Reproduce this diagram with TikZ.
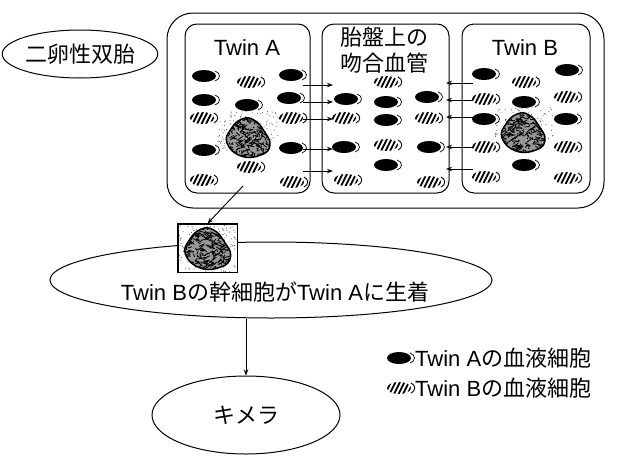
\documentclass[tikz,border=0pt]{standalone}
\usepackage{fontspec}
\setmainfont{Liberation Sans}
\newfontfamily\jp{Noto Sans CJK JP}
\usetikzlibrary{arrows.meta,shapes.geometric,calc}

% outline of a stem cell
\def\blobpath{plot[smooth cycle, tension=0.8] coordinates {(-21,6) (-17,-8) (-6,-18) (6,-17) (16,-6) (22,8) (13,18) (-7,19)}}

% textured body of a stem cell
\newcommand\stembody{%
  \fill[black!40] \blobpath;
  \begin{scope}
    \clip \blobpath;
    \foreach \k in {1,...,260} {\draw[line width=0.8pt] ({rand*22},{rand*20}) -- ++({rand*6},{rand*4});}
  \end{scope}
  \draw[line width=1.5pt] \blobpath;
}

\tikzset{
  panel/.style={draw, line width=1pt, rounded corners=12pt},
  arr/.style={-{Stealth[length=6pt,width=4.5pt]}, line width=0.9pt},
  lbl/.style={font=\fontsize{22}{26}\selectfont, inner sep=0pt},
  oval/.style={draw, ellipse, line width=1pt, inner sep=0pt},
  % blood cell of Twin A: solid body with a thin tail
  acell/.pic={
    \fill[black] (-1,0) ellipse [x radius=12pt, y radius=6pt];
    \draw[line width=0.7pt] (10,-5) .. controls (16,-3) and (16,3) .. (10,5);
  },
  % blood cell of Twin B: hatched body with a thin tail
  bcell/.pic={
    \begin{scope}
      \clip (-1,0) ellipse [x radius=12pt, y radius=6pt];
      \foreach \i in {-12,-7.5,...,12} {\draw[line width=1.8pt] (\i-3,6) -- (\i+3,-6);}
    \end{scope}
    \draw[line width=0.9pt] (11,-5) .. controls (16,-3) and (16,3) .. (11,5);
  },
  % stem cell with speckled halo
  stemcell/.pic={
    \foreach \k in {1,...,120} {\fill[black!75] ({rand*30},{-6+rand*20}) circle (0.5pt);}
    \stembody
  }
}

\begin{document}
\begin{tikzpicture}[x=1pt, y=-1pt]
\pgfmathsetseed{4217}
\useasboundingbox (0,0) rectangle (631,458);

% dizygotic twins label
\node[oval, minimum width=140, minimum height=48, lbl] (twins) at (80,54) {\jp 二卵性双胎};

% placenta frame and the three compartments
\draw[line width=1pt, rounded corners=26pt] (167,13) rectangle (604,208);
\draw[panel] (185,24) rectangle (310,193);
\draw[panel] (322,24) rectangle (449,193);
\draw[panel] (462,24) rectangle (590,193);

\node[lbl] (twinA) at (247,48) {Twin A};
\node[lbl, align=center] (vessels) at (384,50) {\jp 胎盤上の\\\jp 吻合血管};
\node[lbl] (twinB) at (525,48) {Twin B};

% cells in Twin A
\foreach \p in {(205,76),(292,75),(205,100),(248,105),(290,98),(205,150),(292,148)} \pic at \p {acell};
\foreach \p in {(250,82),(203,118),(292,118),(250,167),(203,180),(293,182)} \pic at \p {bcell};
\pic at (248,137) {stemcell};

% cells on the anastomoses
\foreach \p in {(347,99),(387,102),(428,97),(387,120),(345,147),(430,147),(387,165)} \pic at \p {acell};
\foreach \p in {(387,82),(345,118),(428,118),(387,145),(347,180),(430,182)} \pic at \p {bcell};

% cells in Twin B
\foreach \p in {(485,74),(568,70),(525,102),(485,119),(567,119),(525,165)} \pic at \p {acell};
\foreach \p in {(525,82),(485,99),(567,97),(485,147),(567,147),(485,177),(567,178)} \pic at \p {bcell};
\pic at (523,132) {stemcell};

% exchange through the anastomoses
\foreach \y [count=\n] in {85,102,119,149,171} {
  \coordinate (aL\n) at (303,\y);
  \coordinate (aR\n) at (333,\y);
  \draw[arr] (aL\n) -- (aR\n);
}
\foreach \y [count=\n] in {83,100,117,147,169} {
  \coordinate (bR\n) at (473,\y);
  \coordinate (bL\n) at (446,\y);
  \draw[arr] (bR\n) -- (bL\n);
}

% engraftment
\node[oval, minimum width=442, minimum height=76] (engraft) at (271,280) {};
\node[lbl] (engrafttext) at (275,292) {Twin B{\jp の幹細胞が}Twin A{\jp に生着}};

\node[draw, line width=1pt, minimum width=59, minimum height=48, inner sep=0pt, fill=white] (stembox) at (207.5,248) {};
\begin{scope}
  \clip (stembox.north west) rectangle (stembox.south east);
  \foreach \k in {1,...,170} {\fill[black!70] ($(stembox.center)+({rand*29},{rand*24})$) circle (0.5pt);}
\end{scope}
\draw[line width=1pt] (stembox.north west) rectangle (stembox.south east);
\begin{scope}[shift={(stembox.center)}, scale=1.05]
  \stembody
\end{scope}

\coordinate (src) at (243,186);
\draw[arr] (src) -- (stembox.north);

% chimera
\node[oval, minimum width=188, minimum height=78, lbl] (chimera) at (246,415) {\jp キメラ};
\draw[arr] (chimera.north |- engraft.south) -- (chimera.north);

% legend
\pic at (400,358) {acell};
\node[lbl, anchor=west] (legA) at (415,358) {Twin A{\jp の血液細胞}};
\pic at (400,388) {bcell};
\node[lbl, anchor=west] (legB) at (415,388) {Twin B{\jp の血液細胞}};
\end{tikzpicture}
\end{document}
